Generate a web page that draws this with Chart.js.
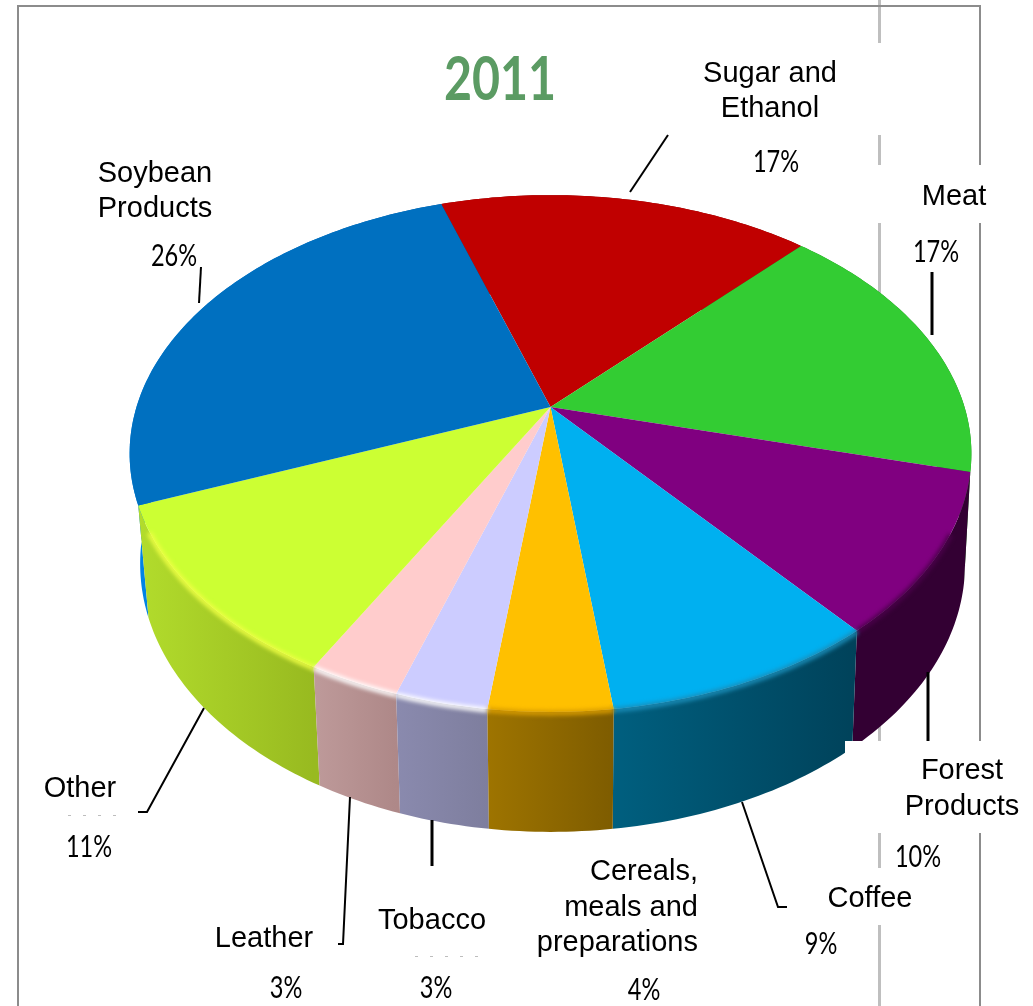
<!DOCTYPE html>
<html>
<head>
<meta charset="utf-8">
<title>2011</title>
<script src="https://cdn.jsdelivr.net/npm/chart.js@4/dist/chart.umd.min.js"></script>
<style>
    html, body { margin: 0; padding: 0; background: #fff; overflow: hidden; }
    canvas { display: block; }
</style>
</head>
<body>
<canvas id="pie_chart" width="1033" height="1006"></canvas>
<script>
var categories = ["Sugar and Ethanol", "Meat", "Forest Products", "Coffee", "Cereals, meals and preparations", "Tobacco", "Leather", "Other", "Soybean Products"];
var shares = [17, 17, 10, 9, 4, 3, 3, 11, 26];
var chartTitle = "2011";

var topColors = ['#C00000', '#33CC33', '#800080', '#00B0F0', '#FFC000', '#CCCCFF', '#FFCCCC', '#CCFF33', '#0070C0'];
var wallLeft = ['#800000', '#1F7F1F', '#330033', '#005F7F', '#9E7400', '#8A8AAE', '#BE9A9A', '#B2DC2C', '#0084E6'];
var wallRight = ['#800000', '#1F7F1F', '#330033', '#00425A', '#7E5C00', '#7E7E9E', '#AE8888', '#98BA20', '#0058A0'];
var rimColors = [null, null, '#4A004A', '#1A8DB8', '#D89C00', '#FFFFFF', '#FFFFFF', '#EEFF44', null];

// label layout: wrapped name lines with baselines, then the percent
var labelSpots = [
    { lines: ["Sugar and", "Ethanol"], x: 770, y: [82, 117], px: 776, py: 172 },
    { lines: ["Meat"], x: 954, y: [205], px: 936, py: 262 },
    { lines: ["Forest", "Products"], x: 962, y: [779, 815], px: 918, py: 867 },
    { lines: ["Coffee"], x: 870, y: [907], px: 821, py: 954 },
    { lines: ["Cereals,", "meals and", "preparations"], x: 698, align: 'right', y: [880, 916, 951], px: 644, py: 1000 },
    { lines: ["Tobacco"], x: 432, y: [929], px: 436, py: 998 },
    { lines: ["Leather"], x: 264, y: [947], px: 286, py: 998 },
    { lines: ["Other"], x: 80, y: [797], px: 89, py: 857 },
    { lines: ["Soybean", "Products"], x: 155, y: [182, 217], px: 174, py: 266 }
];

var leaders = [
    { w: 2, pts: [[668, 135], [630, 192]] },
    { w: 3, pts: [[932, 272], [932, 335]] },
    { w: 3, pts: [[928, 672], [928, 741]] },
    { w: 2, pts: [[742, 802], [778, 907], [787, 907]] },
    { w: 3, pts: [[432, 820], [432, 866]] },
    { w: 2, pts: [[350, 797], [343, 944], [338, 944]] },
    { w: 2, pts: [[204, 708], [147, 812], [138, 812]] },
    { w: 2, pts: [[201, 267], [199, 303]] }
];

// perspective of the tilted disc
var cx = 550.5, cy = 407, tiltA = 250, tiltK = 0.18, tiltC = 414;

function project(angle) {
    var X = Math.cos(angle), Y = Math.sin(angle);
    var w = 1 - tiltK * Y;
    return { x: cx + tiltC * X / w, y: cy + tiltA * Y / w, Y: Y };
}

function dropped(p) {
    var dx = p.x - cx;
    return { x: cx + dx * (dx > 0 ? 0.985 : 0.975), y: p.y + 108 + 12 * p.Y };
}

function rimPoints(el) {
    var pts = [], n = Math.max(8, Math.ceil((el.endAngle - el.startAngle) * 60));
    for (var i = 0; i <= n; i++) {
        pts.push(project(el.startAngle + (el.endAngle - el.startAngle) * i / n));
    }
    return pts;
}

function vline(ctx, color, width, x, segs) {
    ctx.strokeStyle = color;
    ctx.lineWidth = width;
    segs.forEach(function (s) {
        ctx.beginPath();
        ctx.moveTo(x, s[0]);
        ctx.lineTo(x, s[1]);
        ctx.stroke();
    });
}

// the reference numbers are narrower than any installed face, so squeeze sideways
function squeezed(ctx, text, x, y, sx) {
    ctx.save();
    ctx.translate(x, y);
    ctx.scale(sx, 1);
    ctx.textAlign = 'center';
    ctx.fillText(text, 0, 0);
    ctx.restore();
}

var backdrop = {
    id: 'backdrop',
    beforeDraw: function (chart) {
        var ctx = chart.ctx;
        ctx.save();
        ctx.fillStyle = '#fff';
        ctx.fillRect(0, 0, chart.width, chart.height);
        vline(ctx, '#BFBFBF', 3, 879.5, [[0, 43], [135, 165], [223, 320], [700, 741], [833, 868], [925, 1006]]);
        vline(ctx, '#8C8C8C', 2, 980, [[5, 165], [223, 741], [833, 1006]]);
        vline(ctx, '#8C8C8C', 2, 18, [[5, 1006]]);
        ctx.beginPath();
        ctx.moveTo(17, 6);
        ctx.lineTo(981, 6);
        ctx.stroke();
        ctx.restore();
    }
};

var disc3d = {
    id: 'disc3d',
    // the library has worked out the slice angles; lay them out on the tilted disc instead of a flat circle
    beforeDatasetDraw: function (chart) {
        var ctx = chart.ctx;
        var arcs = chart.getDatasetMeta(0).data;
        var order = arcs.map(function (el, i) { return i; }).sort(function (a, b) {
            return Math.sin((arcs[a].startAngle + arcs[a].endAngle) / 2) - Math.sin((arcs[b].startAngle + arcs[b].endAngle) / 2);
        });

        ctx.save();
        order.forEach(function (i) {
            var pts = rimPoints(arcs[i]);
            var low = pts.map(dropped);
            var grad = ctx.createLinearGradient(pts[0].x, 0, pts[pts.length - 1].x, 0);
            var leftFirst = pts[0].x < pts[pts.length - 1].x;
            grad.addColorStop(0, leftFirst ? wallLeft[i] : wallRight[i]);
            grad.addColorStop(1, leftFirst ? wallRight[i] : wallLeft[i]);
            ctx.fillStyle = grad;
            ctx.beginPath();
            pts.forEach(function (p, n) { n ? ctx.lineTo(p.x, p.y) : ctx.moveTo(p.x, p.y); });
            low.reverse().forEach(function (p) { ctx.lineTo(p.x, p.y); });
            ctx.closePath();
            ctx.fill();
        });

        arcs.forEach(function (el, i) {
            var pts = rimPoints(el);
            ctx.fillStyle = topColors[i];
            ctx.beginPath();
            ctx.moveTo(cx, cy);
            pts.forEach(function (p) { ctx.lineTo(p.x, p.y); });
            ctx.closePath();
            ctx.fill();
        });

        // soft highlight where the top meets the wall
        ctx.filter = 'blur(2px)';
        arcs.forEach(function (el, i) {
            if (!rimColors[i]) return;
            var pts = rimPoints(el).filter(function (p) { return p.Y > 0.45; });
            ctx.strokeStyle = rimColors[i];
            ctx.lineWidth = 5;
            ctx.beginPath();
            pts.forEach(function (p, n) { n ? ctx.lineTo(p.x, p.y + 1) : ctx.moveTo(p.x, p.y + 1); });
            ctx.stroke();
        });
        ctx.restore();
        return false;
    },
    afterDatasetsDraw: function (chart) {
        var ctx = chart.ctx;
        ctx.save();

        // white label box that cuts the wall on the lower right
        ctx.fillStyle = '#fff';
        ctx.fillRect(845, 741, 134, 90);

        ctx.strokeStyle = '#000';
        leaders.forEach(function (l) {
            ctx.lineWidth = l.w;
            ctx.beginPath();
            l.pts.forEach(function (p, n) { n ? ctx.lineTo(p[0], p[1]) : ctx.moveTo(p[0], p[1]); });
            ctx.stroke();
        });

        ctx.strokeStyle = '#BDBDBD';
        ctx.lineWidth = 1;
        ctx.setLineDash([3, 12]);
        ctx.beginPath();
        ctx.moveTo(68, 815.5);
        ctx.lineTo(126, 815.5);
        ctx.moveTo(415, 956.5);
        ctx.lineTo(486, 956.5);
        ctx.stroke();
        ctx.setLineDash([]);

        ctx.fillStyle = '#000';
        ctx.textBaseline = 'alphabetic';
        labelSpots.forEach(function (s, i) {
            ctx.font = '29px "Liberation Sans"';
            ctx.textAlign = s.align || 'center';
            s.lines.forEach(function (line, n) { ctx.fillText(line, s.x, s.y[n]); });
            ctx.font = '31px Lato';
            squeezed(ctx, shares[i] + '%', s.px, s.py, 0.76);
        });

        ctx.font = 'bold 62px Lato';
        ctx.fillStyle = '#5B9B63';
        squeezed(ctx, chartTitle, 500, 100, 0.78);
        ctx.restore();
    }
};

new Chart(document.getElementById("pie_chart").getContext("2d"), {
    type: 'pie',
    data: {
        labels: categories,
        datasets: [{
            data: shares,
            backgroundColor: topColors,
            borderWidth: 0
        }]
    },
    options: {
        responsive: false,
        animation: false,
        rotation: -18,
        plugins: {
            legend: { display: false },
            tooltip: { enabled: false }
        }
    },
    plugins: [backdrop, disc3d]
});
</script>
</body>
</html>
